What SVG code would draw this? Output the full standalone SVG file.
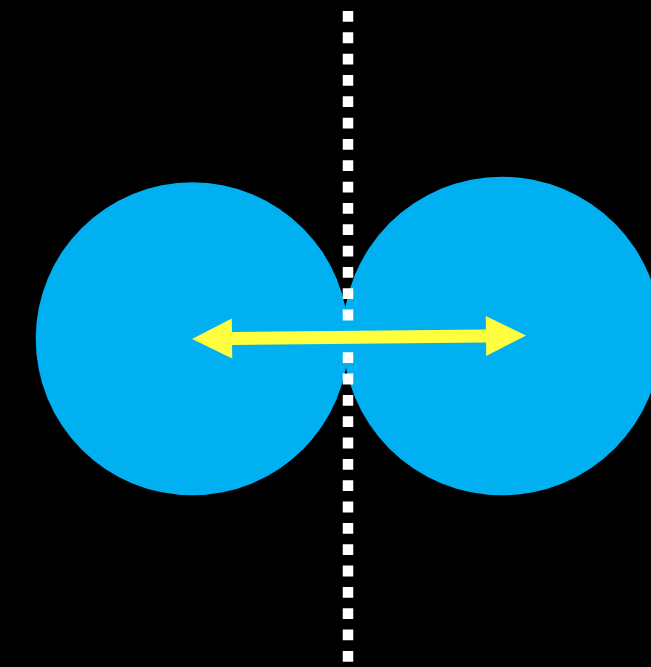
<svg xmlns="http://www.w3.org/2000/svg" width="651" height="667" viewBox="0 0 651 667">
<style>
.ball{fill:#00B0F0}
.divider{stroke:#FFFFFF;stroke-width:10.5;stroke-dasharray:10.8 10.53;fill:none}
.arrow{fill:#FFFF40}
</style>
<rect width="651" height="667" fill="#000000"/>
<g id="left-circle"><circle class="ball" cx="192.2" cy="338.8" r="156.5"/></g>
<g id="right-circle"><circle class="ball" cx="502" cy="336" r="159.3"/></g>
<g id="divider"><line class="divider" x1="348" y1="11" x2="348" y2="667"/></g>
<g id="connectors">
<g transform="translate(359 337.25) rotate(-0.6)">
<polygon class="arrow" points="-167,0 -127,-20 -127,-6.5 127,-6.5 127,-20 167,0 127,20 127,6.5 -127,6.5 -127,20"/>
</g>
</g>
</svg>
